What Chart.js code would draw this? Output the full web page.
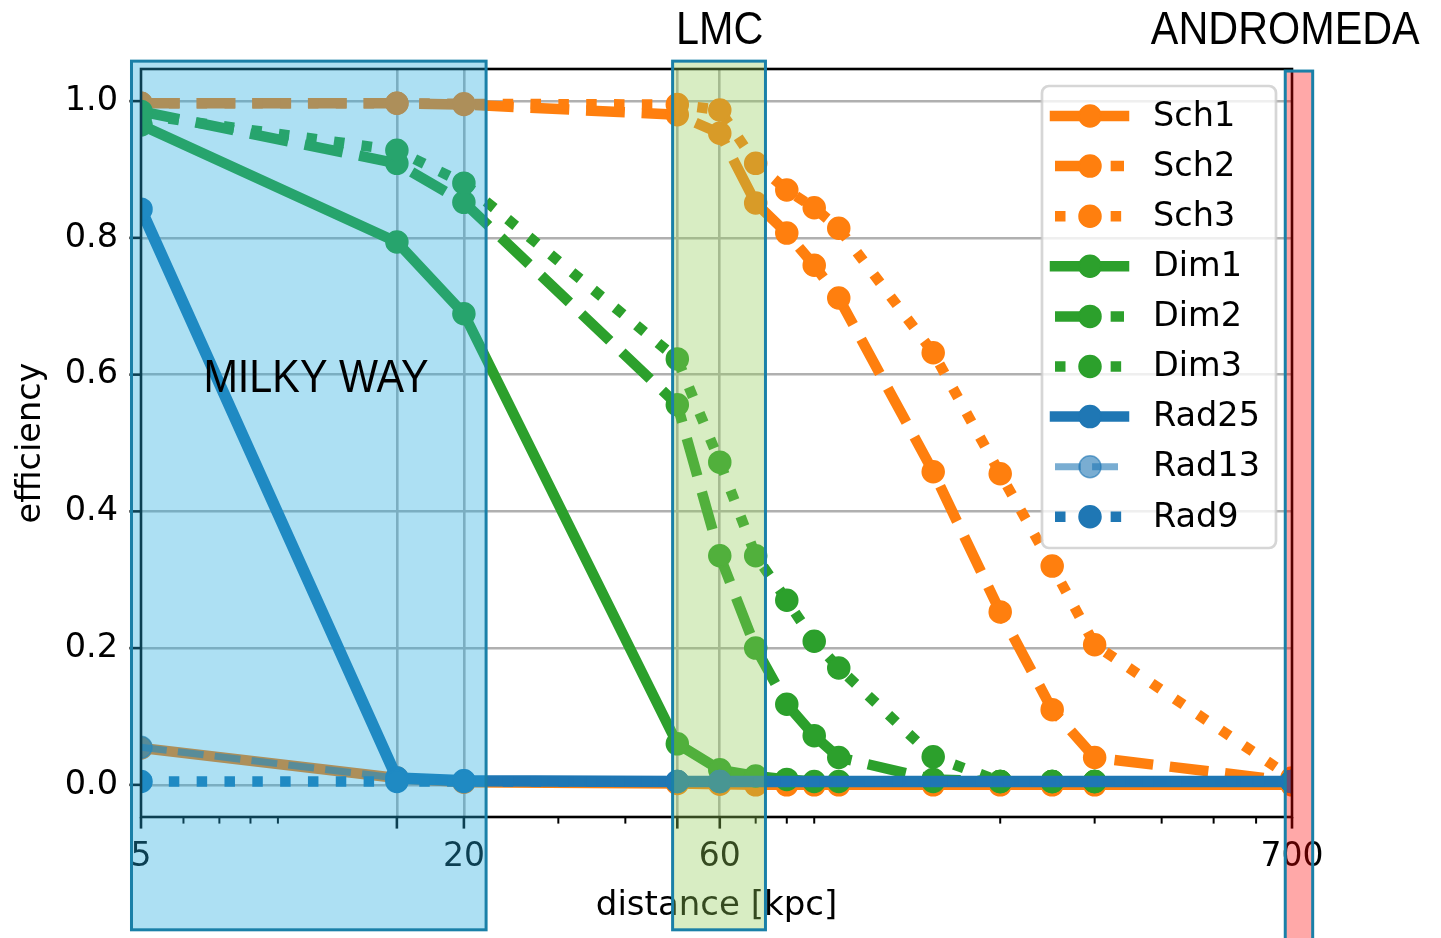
<!DOCTYPE html>
<html>
<head>
<meta charset="utf-8">
<script src="https://cdn.jsdelivr.net/npm/chart.js@4.4.1/dist/chart.umd.min.js"></script>
<style>
  html, body { margin: 0; padding: 0; background: #fff; }
  canvas { display: block; }
</style>
</head>
<body>
<canvas id="chart" width="1441" height="938"></canvas>
<script>
// distances in kpc
const distances = [5, 15, 20, 50, 60, 70, 80, 90, 100, 150, 200, 250, 300, 700];
const radDistances = [5, 15, 20, 50, 60, 700];

const seriesNames = ['Sch1', 'Sch2', 'Sch3', 'Dim1', 'Dim2', 'Dim3', 'Rad25', 'Rad13', 'Rad9'];

const sch1 = [0.054, 0.010, 0.004, 0.002, 0.001, 0.0, 0.0, 0.0, 0.0, 0.0, 0.0, 0.0, 0.0, 0.0];
const sch2 = [0.997, 0.997, 0.995, 0.980, 0.953, 0.851, 0.807, 0.760, 0.712, 0.458, 0.253, 0.110, 0.040, 0.005];
const sch3 = [0.997, 0.997, 0.996, 0.995, 0.987, 0.909, 0.870, 0.844, 0.814, 0.632, 0.455, 0.320, 0.205, 0.010];
const dim1 = [0.965, 0.794, 0.689, 0.060, 0.022, 0.013, 0.008, 0.005, 0.005, 0.005, 0.005, 0.005, 0.005, 0.005];
const dim2 = [0.985, 0.909, 0.852, 0.556, 0.335, 0.200, 0.118, 0.072, 0.040, 0.008, 0.005, 0.005, 0.005, 0.005];
const dim3 = [0.980, 0.928, 0.880, 0.623, 0.472, 0.335, 0.270, 0.210, 0.171, 0.041, 0.005, 0.005, 0.005, 0.005];
const rad25 = [0.842, 0.010, 0.006, 0.005, 0.005, 0.005];
const rad13 = [0.055, 0.010, 0.006, 0.005, 0.005, 0.005];
const rad9 = [0.005, 0.005, 0.005, 0.005, 0.005, 0.005];

const seriesValues = [sch1, sch2, sch3, dim1, dim2, dim3, rad25, rad13, rad9];
const seriesX = [distances, distances, distances, distances, distances, distances,
  radDistances, radDistances, radDistances];

// axis ticks
const xMajorTicks = [5, 15, 20, 50, 60, 700];
const xMinorTicks = [6, 7, 8, 9, 30, 40, 70, 80, 90, 200, 300, 400, 500, 600];
const xTickLabels = [5, 20, 60, 700];
const xGridAt = [15, 20, 50, 60];
const yTicks = [0, 0.2, 0.4, 0.6, 0.8, 1.0];

// highlighted regions (x in kpc, y in efficiency units)
const regionNames = ['MILKY WAY', 'LMC', 'ANDROMEDA'];
const regionFrom = [4.8, 49, 680];
const regionTo = [22, 73, 765];
const regionLabelX = [10.6, 60, 680];
const regionLabelY = [0.574, 1.083, 1.083];

const ORANGE = '#ff7f0e';
const GREEN = '#2ca02c';
const BLUE = '#1f77b4';
const LW = 10.5;
const solid = [];
const dashed = [3.7 * LW, 1.6 * LW];
const dotted = [1 * LW, 1.65 * LW];
const FONT = '"DejaVu Sans", sans-serif';

const styles = [
  { color: ORANGE, dash: solid, width: LW },
  { color: ORANGE, dash: dashed, width: LW },
  { color: ORANGE, dash: dotted, width: LW },
  { color: GREEN, dash: solid, width: LW },
  { color: GREEN, dash: dashed, width: LW },
  { color: GREEN, dash: dotted, width: LW },
  { color: BLUE, dash: solid, width: 11.5 },
  { color: 'rgba(31,119,180,0.6)', dash: [3.7 * 7, 1.6 * 7], width: 7 },
  { color: BLUE, dash: dotted, width: LW },
];

const datasets = seriesNames.map((name, i) => ({
  label: name,
  data: seriesX[i].map((d, j) => ({ x: d, y: seriesValues[i][j] })),
  borderColor: styles[i].color,
  backgroundColor: styles[i].color,
  borderWidth: styles[i].width,
  borderDash: styles[i].dash,
  pointRadius: 11,
  pointHoverRadius: 11,
  pointBorderWidth: 1.5,
  pointBackgroundColor: styles[i].color,
  pointBorderColor: styles[i].color,
  tension: 0,
  clip: 0,
  order: seriesNames.length - i,
}));

const frame = {
  id: 'frame',
  afterDatasetsDraw(chart) {
    const { ctx, chartArea: a, scales: { x, y } } = chart;
    ctx.save();
    ctx.strokeStyle = '#000';
    ctx.lineWidth = 2.6;
    ctx.strokeRect(a.left, a.top, a.right - a.left, a.bottom - a.top);
    const tick = (x0, y0, x1, y1) => {
      ctx.beginPath();
      ctx.moveTo(x0, y0);
      ctx.lineTo(x1, y1);
      ctx.stroke();
    };
    xMajorTicks.forEach((v) => {
      const px = x.getPixelForValue(v);
      tick(px, a.bottom, px, a.bottom + 11.6);
    });
    yTicks.forEach((v) => {
      const py = y.getPixelForValue(v);
      tick(a.left, py, a.left - 11.6, py);
    });
    ctx.lineWidth = 2;
    xMinorTicks.forEach((v) => {
      const px = x.getPixelForValue(v);
      tick(px, a.bottom, px, a.bottom + 6.6);
    });
    ctx.restore();
  },
};

const boxLegend = {
  id: 'boxLegend',
  afterDatasetsDraw(chart) {
    const { ctx, chartArea } = chart;
    const w = 234, h = 462;
    const left = chartArea.right - 16 - w;
    const top = chartArea.top + 17;
    ctx.save();
    ctx.beginPath();
    ctx.roundRect(left, top, w, h, 7);
    ctx.fillStyle = 'rgba(255,255,255,0.8)';
    ctx.fill();
    ctx.lineWidth = 2.7;
    ctx.strokeStyle = 'rgba(204,204,204,0.8)';
    ctx.stroke();
    chart.data.datasets.forEach((ds, i) => {
      const cy = top + 30 + i * 50.1;
      const cx = left + 48;
      ctx.beginPath();
      ctx.setLineDash(ds.borderDash);
      ctx.lineCap = ds.borderDash.length ? 'butt' : 'square';
      ctx.lineWidth = Math.min(ds.borderWidth, LW);
      ctx.strokeStyle = ds.borderColor;
      ctx.moveTo(left + 13, cy);
      ctx.lineTo(left + 82, cy);
      ctx.stroke();
      ctx.setLineDash([]);
      ctx.beginPath();
      ctx.arc(cx, cy, ds.pointRadius, 0, Math.PI * 2);
      ctx.fillStyle = ds.pointBackgroundColor;
      ctx.fill();
      ctx.lineWidth = ds.pointBorderWidth;
      ctx.strokeStyle = ds.pointBorderColor;
      ctx.stroke();
      ctx.fillStyle = '#000';
      ctx.font = '33.5px ' + FONT;
      ctx.textAlign = 'left';
      ctx.textBaseline = 'middle';
      ctx.fillText(ds.label, left + 111, cy + 1);
    });
    ctx.restore();
  },
};

const regions = {
  id: 'regions',
  afterDraw(chart) {
    const { ctx, scales: { x, y } } = chart;
    const fills = ['rgba(33,171,223,0.37)', 'rgba(148,204,89,0.36)', 'rgba(255,0,0,0.34)'];
    const tops = [1.0585, 1.0585, 1.044];
    const bottoms = [-0.212, -0.212, -0.3];
    ctx.save();
    regionNames.forEach((name, i) => {
      const x0 = x.getPixelForValue(regionFrom[i]);
      const x1 = x.getPixelForValue(regionTo[i]);
      const y0 = y.getPixelForValue(tops[i]);
      const y1 = y.getPixelForValue(bottoms[i]);
      ctx.fillStyle = fills[i];
      ctx.fillRect(x0, y0, x1 - x0, y1 - y0);
      ctx.strokeStyle = '#1a80a8';
      ctx.lineWidth = 3;
      ctx.strokeRect(x0, y0, x1 - x0, y1 - y0);
    });
    ctx.fillStyle = '#000';
    ctx.font = '47px "Liberation Sans", Arial, sans-serif';
    ctx.textAlign = 'center';
    ctx.textBaseline = 'alphabetic';
    regionNames.forEach((name, i) => {
      ctx.save();
      ctx.translate(x.getPixelForValue(regionLabelX[i]), y.getPixelForValue(regionLabelY[i]));
      ctx.scale(0.88, 1);
      ctx.fillText(name, 0, 0);
      ctx.restore();
    });
    ctx.restore();
  },
};

new Chart(document.getElementById('chart'), {
  type: 'line',
  data: { datasets },
  options: {
    responsive: false,
    animation: false,
    devicePixelRatio: 1,
    layout: { padding: { top: 69, right: 149, left: 0, bottom: 0 } },
    plugins: { legend: { display: false }, tooltip: { enabled: false } },
    events: [],
    scales: {
      x: {
        type: 'logarithmic',
        min: 5,
        max: 700,
        afterBuildTicks: (scale) => {
          scale.ticks = xMajorTicks.concat(xMinorTicks).sort((a, b) => a - b).map((v) => ({ value: v }));
        },
        afterFit: (scale) => { scale.height = 121; },
        border: { display: false },
        grid: {
          drawTicks: false,
          lineWidth: 2.6,
          color: (c) => (c.tick && xGridAt.includes(c.tick.value) ? '#b0b0b0' : 'rgba(0,0,0,0)'),
        },
        ticks: {
          autoSkip: false,
          maxRotation: 0,
          minRotation: 0,
          padding: 21,
          color: '#000',
          font: { family: FONT, size: 33 },
          callback: (v) => (xTickLabels.includes(v) ? String(v) : ''),
        },
        title: {
          display: true,
          text: 'distance [kpc]',
          color: '#000',
          font: { family: FONT, size: 34 },
          padding: { top: 0, bottom: 11 },
        },
      },
      y: {
        type: 'linear',
        min: -0.047,
        max: 1.047,
        afterBuildTicks: (scale) => {
          scale.ticks = yTicks.map((v) => ({ value: v }));
        },
        afterFit: (scale) => { scale.width = 141; },
        border: { display: false },
        grid: { drawTicks: false, lineWidth: 2.6, color: '#b0b0b0' },
        ticks: {
          padding: 23,
          color: '#000',
          font: { family: FONT, size: 33.5 },
          callback: (v) => v.toFixed(1),
        },
        title: {
          display: true,
          text: 'efficiency',
          color: '#000',
          font: { family: FONT, size: 33.5 },
          padding: { top: 11, bottom: 0 },
        },
      },
    },
  },
  plugins: [frame, boxLegend, regions],
});
</script>
</body>
</html>
